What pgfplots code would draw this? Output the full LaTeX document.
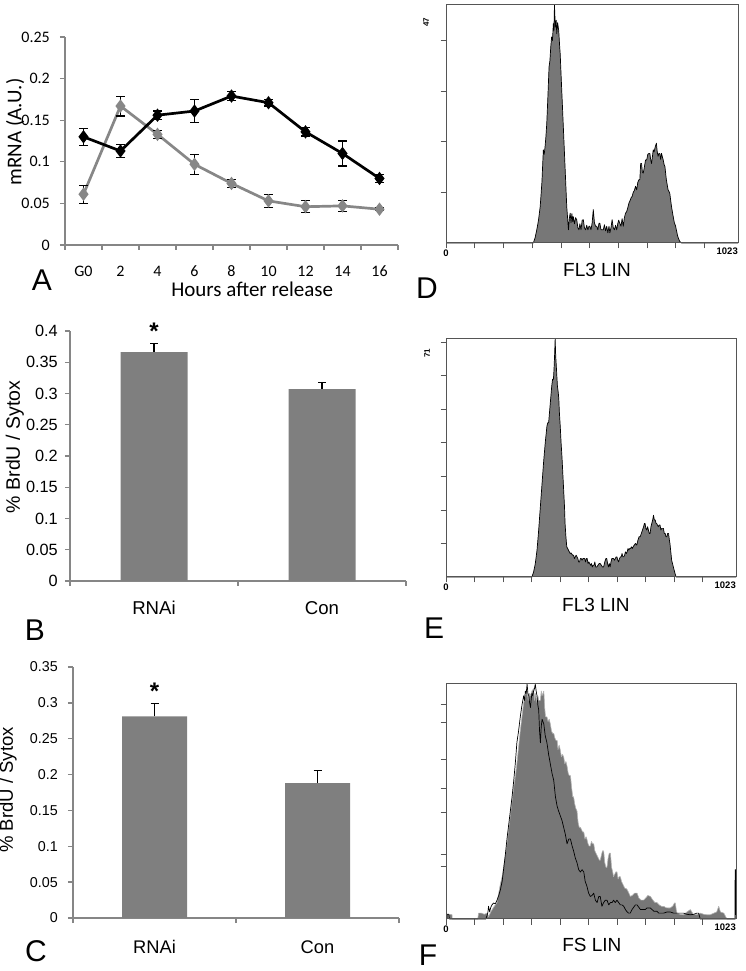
\documentclass[border=0pt]{standalone}
\usepackage{fontspec}
\setmainfont{Liberation Sans}
\newfontfamily\calfont{Carlito}
\usepackage{pgfplots}
\pgfplotsset{compat=1.18}

\definecolor{axisgrey}{HTML}{868686}
\definecolor{barfill}{HTML}{7F7F7F}
\definecolor{linegrey}{HTML}{878787}
\definecolor{histfill}{HTML}{777777}
\definecolor{boxcol}{HTML}{555555}

\newcommand{\fs}[1]{\fontsize{#1}{#1}\selectfont}

\pgfplotsset{
  xlplot/.style={
    scale only axis, anchor=south west, clip=false,
    axis lines*=left, axis line style={axisgrey, line width=1.3pt, -},
    tick align=outside, tick style={axisgrey, line width=1.3pt},
    major tick length=5pt,
    xticklabels={},
    extra x tick style={major tick length=0pt},
    xticklabel style={anchor=center, inner sep=0pt},
    yticklabel style={anchor=east, inner sep=0pt},
  },
  histo/.style={
    scale only axis, anchor=south west, clip=false, axis on top,
    axis line style={boxcol, line width=1pt},
    tick align=outside, tick pos=left, tick style={boxcol, line width=0.9pt},
    major tick length=5.5pt,
    xmin=0, xmax=1023, ymin=0,
    xtick={0,101,201,302,403,503,604,705,805,906},
    xticklabels={0,,,,,,,,,},
    xticklabel style={font=\bfseries\fs{9.5}, inner sep=1pt},
    yticklabels={},
    xlabel style={font=\fs{19}, anchor=center},
  },
}

\begin{document}
\begin{tikzpicture}
\path[use as bounding box] (0pt,0pt) rectangle (745pt,971pt);

% ---------- A: mRNA time course
\begin{axis}[xlplot, at={(65pt,726pt)}, width=333pt, height=208pt,
  xmin=-0.5, xmax=8.5, ymin=0, ymax=0.25,
  xtick={-0.5,0.5,1.5,2.5,3.5,4.5,5.5,6.5,7.5,8.5},
  extra x ticks={0,1,2,3,4,5,6,7,8},
  extra x tick labels={G0,2,4,6,8,10,12,14,16},
  ytick={0,0.05,0.1,0.15,0.2,0.25},
  yticklabels={0,0.05,0.1,0.15,0.2,0.25},
  tick label style={font=\calfont\fs{16}},
  xticklabel style={yshift=-26pt},
  yticklabel style={xshift=-10pt},
  xlabel={Hours after release}, ylabel={mRNA (A.U.)},
  label style={font=\calfont\fs{21}},
  xlabel style={at={(axis description cs:0.562,-0.212)}, anchor=center},
  ylabel style={at={(axis description cs:-0.150,0.543)}, anchor=center},
  error bars/error bar style={black, line width=1.1pt},
  error bars/error mark options={rotate=90, black, mark size=4.5pt, line width=1.1pt},
]
\addplot[linegrey, line width=2.7pt, mark=diamond*, mark size=4.5pt,
  mark options={fill=linegrey, draw=linegrey},
  error bars/.cd, y dir=both, y explicit] coordinates {
  (0,0.061) +- (0,0.011)
  (1,0.167) +- (0,0.012)
  (2,0.133) +- (0,0.005)
  (3,0.097) +- (0,0.012)
  (4,0.074) +- (0,0.005)
  (5,0.053) +- (0,0.008)
  (6,0.046) +- (0,0.007)
  (7,0.047) +- (0,0.007)
  (8,0.043) +- (0,0.002)
};
\addplot[black, line width=2.7pt, mark=diamond*, mark size=4.5pt,
  error bars/.cd, y dir=both, y explicit] coordinates {
  (0,0.130) +- (0,0.010)
  (1,0.113) +- (0,0.008)
  (2,0.156) +- (0,0.005)
  (3,0.161) +- (0,0.014)
  (4,0.179) +- (0,0.005)
  (5,0.171) +- (0,0.004)
  (6,0.136) +- (0,0.005)
  (7,0.110) +- (0,0.015)
  (8,0.080) +- (0,0.005)
};
\end{axis}

% ---------- B: BrdU bars
\begin{axis}[xlplot, at={(70pt,390pt)}, width=336pt, height=250pt,
  xmin=-0.5, xmax=1.5, ymin=0, ymax=0.4,
  xtick={-0.5,0.5,1.5},
  extra x ticks={0,1}, extra x tick labels={RNAi,Con},
  ytick={0,0.05,0.1,0.15,0.2,0.25,0.3,0.35,0.4},
  yticklabels={0,0.05,0.1,0.15,0.2,0.25,0.3,0.35,0.4},
  yticklabel style={font=\fs{16.3}, xshift=-7pt},
  xticklabel style={font=\fs{18.6}, yshift=-27pt},
  ylabel={\% BrdU / Sytox}, ylabel style={font=\fs{19.5},
    at={(axis description cs:-0.164,0.536)}, anchor=center},
  ybar, bar width=67pt,
]
\addplot[fill=barfill, draw=none,
  error bars/.cd, y dir=plus, y explicit,
  error bar style={black, line width=1.3pt},
  error mark options={rotate=90, black, mark size=4pt, line width=1.3pt}]
  coordinates {(0,0.366) +- (0,0.014) (1,0.307) +- (0,0.011)};
\node[font=\bfseries\fs{24}] at (axis cs:0,0.4) {*};
\end{axis}

% ---------- C: BrdU bars
\begin{axis}[xlplot, at={(73pt,53pt)}, width=326pt, height=251pt,
  xmin=-0.5, xmax=1.5, ymin=0, ymax=0.35,
  xtick={-0.5,0.5,1.5},
  extra x ticks={0,1}, extra x tick labels={RNAi,Con},
  ytick={0,0.05,0.1,0.15,0.2,0.25,0.3,0.35},
  yticklabels={0,0.05,0.1,0.15,0.2,0.25,0.3,0.35},
  yticklabel style={font=\fs{14.3}, xshift=-10pt},
  xticklabel style={font=\fs{18.3}, yshift=-29pt},
  ylabel={\% BrdU / Sytox}, ylabel style={font=\fs{18.5},
    at={(axis description cs:-0.199,0.51)}, anchor=center},
  ybar, bar width=65pt,
]
\addplot[fill=barfill, draw=none,
  error bars/.cd, y dir=plus, y explicit,
  error bar style={black, line width=1.3pt},
  error mark options={rotate=90, black, mark size=4pt, line width=1.3pt}]
  coordinates {(0,0.281) +- (0,0.018) (1,0.188) +- (0,0.018)};
\node[font=\bfseries\fs{24}] at (axis cs:0,0.3165) {*};
\end{axis}

% ---------- D: FL3 histogram
\begin{axis}[histo, at={(446pt,728pt)}, width=292pt, height=238pt,
  ymax=47, ytick={10,20,30,40},
  xlabel={FL3 LIN}, xlabel style={at={(axis description cs:0.517,-0.113)}},
]
\addplot[fill=histfill, draw=black, line width=0.7pt, line join=round] coordinates {
(0,0) (306,0) (312,1) (318,2.6) (324,4.5) (330,7.2) (336,12) (341,18.4) (344,17.5)
(347,19.0) (350,21) (353,23.6) (357,29) (361,34.8) (364,36) (367,38.7) (370,40.7)
(373,40) (376,43.3) (378,42) (380,47) (383,42.6) (386,44) (388,41.3) (391,43.5)
(395,41.9) (398,39) (400,37.4) (405,30.8) (411,23.0) (417,15.1) (423,7.2) (429,2.6)
(432,4.8) (435,5.9) (438,4) (441,5.8) (444,4.2) (446,5.2) (450,3.8) (454,5) (458,4.6)
(462,3) (466,2.6) (469,3.8) (473,2.6) (477,4.5) (481,4.6) (485,3) (489,2.6) (493,3.5)
(497,2.6) (501,3.3) (504,3.3) (508,2.6) (512,4) (516,6.6) (520,4) (524,3.3) (528,3.3)
(532,2.6) (536,3.9) (539,3.9) (543,2.6) (547,2.6) (551,2.6) (555,3.6) (559,2.4)
(563,3.3) (567,2) (571,3.3) (574,2.0) (578,3) (582,4.6) (586,3) (590,2.6) (594,3.5)
(598,2.6) (602,3.9) (605,4.5) (609,3.9) (613,3.3) (617,4.8) (621,3.3) (625,5)
(629,5.9) (633,6.2) (637,7) (641,7.9) (645,8.4) (649,9) (652,9.2) (656,10) (660,10.4)
(664,11.2) (668,10.5) (672,12) (676,12.5) (679,12.5) (682,15.7) (685,15.7) (688,14)
(691,13.8) (695,15) (699,16.4) (703,16.4) (707,17.5) (711,17.7) (714,17.7) (717,16.5)
(720,15.7) (723,17) (726,18.4) (729,18) (733,19) (737,19.7) (740,18) (743,17.1)
(746,17.7) (749,17.7) (752,16.5) (755,17.7) (758,17) (761,16.4) (764,15.5) (767,15.1)
(770,13.5) (772,12.5) (775,11.5) (778,10.5) (781,10.2) (784,9.8) (787,8.5) (790,7.2)
(793,6.2) (796,5.2) (800,4) (804,3.4) (807,2.6) (811,1.5) (815,0.8) (819,0.3) (825,0)
(1023,0)
};
\node[rotate=90, font=\bfseries\fs{8}] at (axis cs:-70,43.6) {47};
\node[anchor=east, inner sep=0pt, font=\bfseries\fs{9.5}] at (axis cs:1023,-1.7) {1023};
\end{axis}

% ---------- E: FL3 histogram
\begin{axis}[histo, at={(446pt,394pt)}, width=290pt, height=238pt,
  ymax=71, ytick={10,20,30,40,50,60,70},
  xlabel={FL3 LIN}, xlabel style={at={(axis description cs:0.517,-0.118)}},
]
\addplot[fill=histfill, draw=black, line width=0.7pt, line join=round] coordinates {
(0,0) (303,0) (309,1.5) (315,4) (321,8) (326,13) (332,20) (338,27) (344,34) (350,40)
(356,45) (359,46) (362,46) (365,49) (368,52) (371,55) (373,57) (376,59) (379,59)
(381,62) (383,66) (385,71) (387,66) (389,63) (391,60) (393,57) (396,55) (398,53)
(400,49) (403,45) (406,40) (409,36) (412,31) (415,26) (418,21) (420,16) (423,12)
(426,9) (429,8.5) (432,8) (435,7.5) (438,7) (441,7.2) (444,6.8) (447,6.5) (450,6.5)
(453,5.5) (456,6) (459,6.5) (462,6) (465,5.5) (468,4.5) (471,4.5) (474,5.5) (477,5.5)
(480,5) (483,5.5) (486,5.5) (489,5.5) (492,4.5) (495,5.5) (498,5.5) (501,4) (504,4.5)
(507,4) (510,3.5) (513,4) (516,3) (519,3.5) (522,3.5) (525,4.5) (528,3) (532,3)
(536,3.5) (540,4) (544,4) (548,3.5) (552,3) (556,3) (560,4.5) (564,5.5) (567,5.5)
(570,4) (573,3) (576,4) (579,3) (582,4.5) (585,5.5) (588,5.5) (591,5.5) (594,5)
(597,5.5) (600,6) (603,6) (606,5) (609,4.5) (612,5.5) (615,6) (618,6) (621,7) (624,6)
(627,6) (630,6.5) (633,7.5) (636,7) (639,7.5) (642,8.5) (645,8) (648,8.5) (651,8.5)
(654,9) (657,8.5) (660,9) (664,9.5) (668,10) (673,9.5) (677,11) (681,12) (685,12)
(689,13) (693,14) (697,15) (700,16) (702,16) (705,14.5) (708,14) (711,15) (714,14)
(717,13) (720,13) (723,15) (726,16) (729,17) (732,18.4) (735,17) (738,17) (741,16)
(743,16) (746,15.5) (749,15) (752,15.5) (755,15.5) (758,14) (761,14.5) (764,14.5)
(767,14.5) (770,13) (773,13) (776,12) (779,12) (782,13) (785,13) (788,11) (790,10)
(793,7.5) (796,5) (799,4) (802,3) (805,2) (808,1) (812,0) (1023,0)
};
\node[rotate=90, font=\bfseries\fs{8}] at (axis cs:-67,66.8) {71};
\node[anchor=east, inner sep=0pt, font=\bfseries\fs{9.5}] at (axis cs:1023,-2.4) {1023};
\end{axis}

% ---------- F: FS histogram, two overlaid
\begin{axis}[histo, at={(446pt,52pt)}, width=290pt, height=235pt,
  ymax=100, ytick={22.4,27.6,45.3,55.4,68.1,83.6,91.1},
  xlabel={FS LIN}, xlabel style={at={(axis description cs:0.503,-0.111)}},
]
\addplot[fill=histfill, draw=gray!60, line width=0.6pt, line join=round] coordinates {
(0,0) (3,0) (3,2) (8,1.8) (14,2) (21,1.8) (22,0) (112,0) (115,2.5) (125,2.5) (135,2)
(145,2.5) (150,1) (158,3) (168,5) (174,6) (180,7) (186,11) (192,15) (198,18) (203,22)
(209,27) (215,32) (221,38) (227,44) (233,50) (239,56) (245,61) (250,66) (256,73)
(262,80) (268,86) (274,92) (280,95) (286,97) (290,93) (295,96) (298,95) (303,97)
(309,98) (312,93) (315,96) (321,92) (324,95) (327,93) (333,93) (336,97) (339,95)
(345,97) (348,90) (351,86) (356,86) (360,84) (364,85) (368,83) (372,80) (376,79)
(380,79) (384,77) (388,76) (392,76) (395,72) (399,74) (403,72) (407,69) (411,70)
(415,69) (419,66) (423,67) (427,65) (431,62) (435,61) (439,61) (443,56) (447,52)
(450,52) (454,49) (458,47) (462,46) (466,41) (470,39) (474,39) (478,38) (482,37)
(486,37) (490,34) (494,35) (497,34) (501,32) (505,31) (509,31) (513,33) (517,32)
(521,32) (525,29) (529,28) (533,27) (537,26) (541,25) (544,25) (548,27) (552,29)
(556,29) (560,24) (564,22) (568,22) (572,26) (576,28) (580,28) (584,22) (588,20)
(591,18) (595,19) (599,20) (603,20) (607,17) (611,18) (615,18) (619,16) (623,15)
(627,14) (631,13) (635,13) (639,12.5) (645,11) (650,9.6) (657,10) (665,11) (674,11)
(680,9) (688,8) (697,8) (705,9) (712,10) (721,9.6) (730,8) (737,7) (744,7) (752,6)
(760,5.4) (768,5.4) (776,4.8) (783,4.7) (791,4.7) (800,5.5) (806,6.8) (809,6.8)
(812,4) (815,2.5) (825,2) (838,1.8) (850,3) (862,4) (872,2) (885,1.8) (897,2.5)
(909,2) (920,1.8) (932,1.8) (945,2.5) (955,3) (962,5.4) (968,3) (980,2.5) (991,0)
(1023,0)
};
\addplot[draw=black, line width=0.7pt, line join=round] coordinates {
(0,0) (3,0) (4,2) (10,2) (12,0) (140,0) (145,1.5) (148,3) (150,5.4) (154,3) (158,5)
(162,6) (168,6.8) (174,6.5) (180,8) (186,10) (192,12.5) (198,16) (203,21) (209,27)
(215,34) (221,40) (227,46) (233,52) (239,59) (245,67) (250,75) (256,80) (262,86)
(268,91) (274,95) (277,93) (280,97) (283,96) (286,100) (289,96) (292,95) (295,92)
(298,90) (301,94) (303,96) (306,95) (309,97) (312,98) (315,100) (318,97) (321,95)
(324,91) (327,89) (330,80) (333,75) (336,82) (339,85) (342,84) (345,83) (350,78)
(356,75) (362,70) (368,66) (374,62) (380,59) (386,52) (392,48) (397,46) (403,44)
(409,42) (415,39) (421,36) (427,32) (433,34) (439,34) (445,31) (450,29) (456,26)
(462,24) (468,21) (474,20) (480,21) (486,20) (491,16) (497,14) (503,11) (509,9.6)
(515,10) (521,11) (527,8) (533,7) (539,9.6) (544,9.6) (550,5.4) (556,7) (562,8)
(568,8) (574,6) (580,7) (586,7) (591,8) (597,7) (603,8) (609,7) (615,6) (621,6)
(627,5.4) (633,4) (639,3) (644,2.5) (650,2.5) (656,4) (662,5) (668,6) (674,6) (680,5)
(686,4) (691,4) (697,4) (703,4) (709,4.7) (715,4.7) (721,4.7) (727,4) (733,3.3)
(739,3.3) (744,3.3) (750,2.5) (756,2.5) (762,2.5) (768,2.5) (780,3) (791,3) (803,2.5)
(815,2.5) (826,2.5) (838,2.5) (850,2) (862,1.8) (874,2) (885,2.5) (891,2.5) (897,0)
(1019,0) (1020,21) (1022,21) (1023,0)
};
\node[anchor=east, inner sep=0pt, font=\bfseries\fs{9.5}] at (axis cs:1023,-3.5) {1023};
\end{axis}

% panel letters
\node[font=\fs{30}] at (42pt,691pt) {A};
\node[font=\fs{30}] at (35pt,341pt) {B};
\node[font=\fs{30}] at (36pt,20pt) {C};
\node[font=\fs{30}] at (427pt,683pt) {D};
\node[font=\fs{30}] at (434pt,343pt) {E};
\node[font=\fs{30}] at (428pt,16pt) {F};
\end{tikzpicture}
\end{document}
